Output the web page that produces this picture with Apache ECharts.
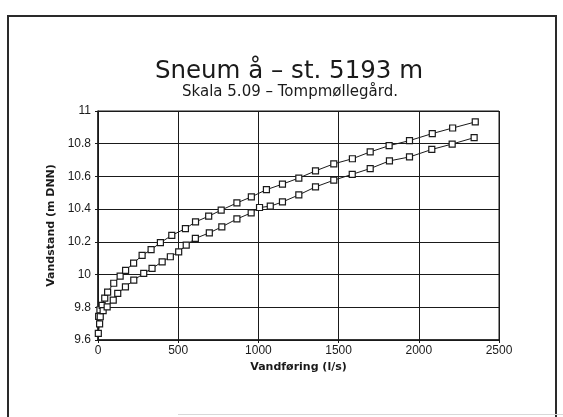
<!DOCTYPE html>
<html>
<head>
<meta charset="utf-8">
<script src="https://cdn.jsdelivr.net/npm/echarts@6/dist/echarts.min.js"></script>
<style>
html,body{margin:0;padding:0;background:#fff;}
#chart{width:563px;height:417px;}
</style>
</head>
<body>
<div id="chart"></div>
<script>
// Discharge (l/s) and stage (m DNN) for the upper curve
var qUpper = [4, 12, 26, 42, 60, 98, 138, 172, 222, 275, 331, 389, 460, 545, 608, 690, 768, 866, 956, 1050, 1150, 1252, 1356, 1470, 1586, 1697, 1815, 1942, 2084, 2211, 2352];
var hUpper = [9.745, 9.785, 9.812, 9.856, 9.893, 9.947, 9.99, 10.026, 10.07, 10.117, 10.152, 10.195, 10.24, 10.281, 10.322, 10.357, 10.394, 10.438, 10.475, 10.519, 10.553, 10.59, 10.634, 10.677, 10.708, 10.75, 10.788, 10.819, 10.862, 10.896, 10.933];
// Discharge (l/s) and stage (m DNN) for the lower curve
var qLower = [2, 10, 14, 32, 57, 95, 123, 171, 223, 285, 337, 400, 451, 503, 550, 607, 694, 772, 866, 955, 1007, 1074, 1150, 1252, 1356, 1470, 1585, 1697, 1817, 1942, 2081, 2208, 2345];
var hLower = [9.641, 9.698, 9.742, 9.78, 9.803, 9.844, 9.885, 9.925, 9.966, 10.007, 10.038, 10.078, 10.109, 10.139, 10.18, 10.221, 10.255, 10.292, 10.34, 10.377, 10.41, 10.418, 10.444, 10.487, 10.536, 10.577, 10.613, 10.648, 10.695, 10.719, 10.765, 10.798, 10.837];
var xTicks = ['0', '500', '1000', '1500', '2000', '2500'];
var yTicks = ['9.6', '9.8', '10', '10.2', '10.4', '10.6', '10.8', '11'];
var titleText = 'Sneum å – st. 5193 m';
var subtitleText = 'Skala 5.09 – Tompmøllegård.';
var xName = 'Vandføring (l/s)';
var yName = 'Vandstand (m DNN)';

function pairs(xs, ys) { return xs.map(function (x, i) { return [x, ys[i]]; }); }

var ink = '#1a1a1a';
var font = '"Liberation Sans", Arial, sans-serif';
var wide = '"DejaVu Sans", sans-serif';

var chart = echarts.init(document.getElementById('chart'), null, {renderer: 'canvas'});
var seriesStyle = {
  type: 'line',
  symbol: 'rect',
  symbolSize: 6,
  showSymbol: true,
  lineStyle: {color: ink, width: 1},
  itemStyle: {color: '#fff', borderColor: ink, borderWidth: 1.2},
  animation: false
};
chart.setOption({
  backgroundColor: '#fff',
  animation: false,
  title: [
    {text: titleText, left: 284, top: 54, textAlign: 'center',
     textStyle: {fontFamily: wide, fontSize: 24.5, fontWeight: 'normal', color: ink}},
    {text: subtitleText, left: 285, top: 80, textAlign: 'center',
     textStyle: {fontFamily: wide, fontSize: 15, fontWeight: 'normal', color: ink}}
  ],
  grid: {left: 98, right: 64, top: 111, bottom: 77, show: true, borderColor: ink, borderWidth: 1, backgroundColor: 'transparent'},
  xAxis: {
    type: 'value', min: 0, max: 2500, interval: 500,
    name: xName, nameLocation: 'middle', nameGap: 17,
    nameTextStyle: {fontFamily: wide, fontSize: 11, fontWeight: 'bold', color: ink},
    axisLine: {show: true, lineStyle: {color: ink, width: 1.5}},
    axisTick: {show: true, length: 3, lineStyle: {color: ink}},
    axisLabel: {fontFamily: font, fontSize: 12, color: ink, margin: 5,
      formatter: function (v) { return xTicks[Math.round(v / 500)]; }},
    splitLine: {show: true, lineStyle: {color: ink, width: 1}}
  },
  yAxis: {
    type: 'value', min: 9.6, max: 11, interval: 0.2,
    name: yName, nameLocation: 'middle', nameGap: 33, nameRotate: 90,
    nameTextStyle: {fontFamily: wide, fontSize: 11, fontWeight: 'bold', color: ink},
    axisLine: {show: true, lineStyle: {color: ink, width: 1.5}},
    axisTick: {show: true, length: 3, lineStyle: {color: ink}},
    axisLabel: {fontFamily: font, fontSize: 12, color: ink, margin: 7,
      formatter: function (v) { return yTicks[Math.round((v - 9.6) / 0.2)]; }},
    splitLine: {show: true, lineStyle: {color: ink, width: 1}}
  },
  series: [
    Object.assign({name: 'upper', data: pairs(qUpper, hUpper)}, seriesStyle),
    Object.assign({name: 'lower', data: pairs(qLower, hLower)}, seriesStyle)
  ],
  graphic: [
    {type: 'rect', shape: {x: 8, y: 16, width: 548, height: 420}, style: {fill: 'none', stroke: '#2a2a2a', lineWidth: 2}, silent: true},
    {type: 'line', shape: {x1: 178, y1: 414.5, x2: 563, y2: 414.5}, style: {stroke: '#d8d8d8', lineWidth: 1}, silent: true}
  ]
});
</script>
</body>
</html>
